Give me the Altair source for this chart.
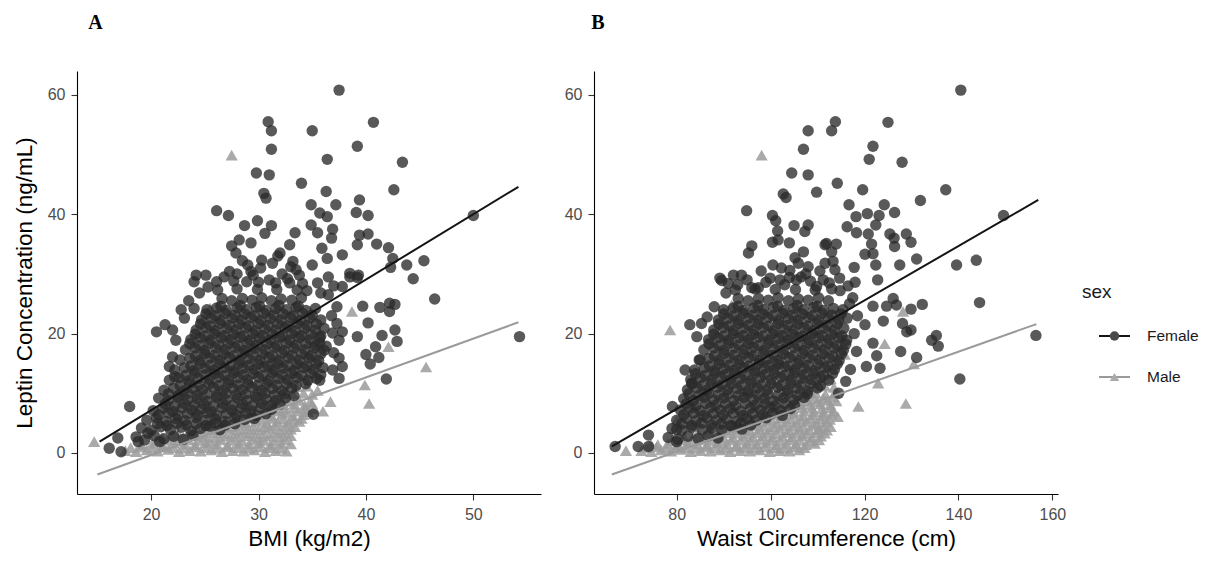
import altair as alt
import pandas as pd

SEX = ["Female", "Male"]

# ---------------- Panel A : BMI (kg/m2) vs leptin (ng/mL) ----------------
female_a = [
    # scattered / upper points
    (37.5, 60.8), (30.9, 55.5), (40.7, 55.4), (31.2, 54.0), (35.0, 54.0), (31.2, 50.9), (39.2, 51.4),
    (36.4, 49.2), (43.4, 48.7), (29.8, 46.9), (31.0, 46.6), (34.0, 45.2), (42.6, 44.1), (36.3, 43.8),
    (30.5, 43.5), (30.7, 42.7), (39.4, 42.4), (34.9, 41.6), (37.2, 41.6), (26.1, 40.6), (35.7, 40.2),
    (39.1, 40.3), (27.2, 39.8), (36.4, 39.6), (40.2, 39.8), (50.0, 39.8), (29.9, 38.9), (28.7, 38.1),
    (31.2, 38.1), (34.9, 38.2), (36.9, 37.5), (35.5, 36.9), (33.4, 36.9), (30.6, 36.8), (36.8, 36.0),
    (39.4, 36.5), (40.2, 36.7), (28.2, 35.7), (29.3, 35.2), (39.2, 34.9), (41.0, 35.0), (32.9, 34.9),
    (27.5, 34.7), (42.1, 34.4), (35.9, 34.3), (27.9, 33.5), (32.0, 33.5), (37.8, 33.2), (36.4, 32.6),
    (42.5, 32.6), (30.3, 32.3), (33.2, 32.1), (45.4, 32.2), (31.3, 31.8), (29.0, 31.5), (35.0, 31.5),
    (43.8, 31.5), (42.3, 31.1), (33.5, 30.7), (27.3, 30.4), (38.5, 30.1), (24.2, 29.8), (25.1, 29.8),
    (39.2, 29.4), (44.4, 29.2), (31.0, 29.0), (24.0, 28.7), (26.1, 28.7), (28.9, 28.7), (31.6, 28.5),
    (32.9, 28.5), (34.1, 28.4), (37.8, 27.9), (28.0, 30.0), (29.5, 29.8), (30.2, 31.0), (32.2, 30.0),
    (26.8, 29.5), (33.8, 29.8), (31.8, 33.0), (28.5, 32.2), (38.5, 29.5), (39.3, 29.8), (37.0, 28.0),
    (36.5, 26.5), (37.3, 24.5), (36.8, 23.0), (36.5, 29.5), (35.5, 28.5),
    (24.5, 26.8), (25.3, 27.8), (30.0, 28.6), (32.7, 29.2), (27.7, 28.8), (29.3, 30.4), (33.0, 31.2),
    (34.5, 27.2), (35.8, 26.8), (23.5, 25.5), (22.8, 24.0), (37.0, 16.8), (36.9, 20.1),
    (46.4, 25.8), (39.7, 24.6), (41.3, 24.4), (42.2, 25.1), (42.7, 24.9), (42.2, 23.7), (40.2, 21.8),
    (39.2, 19.5), (41.5, 19.7), (42.7, 20.6), (42.9, 18.7), (40.9, 17.8), (40.0, 16.5), (41.2, 16.0),
    (40.4, 14.9), (41.9, 12.4), (54.3, 19.5), (35.1, 6.5), (37.5, 12.5), (37.5, 15.9), (37.5, 18.9),
    (37.8, 20.3), (37.3, 21.7), (35.7, 18.4), (36.3, 17.9), (35.7, 12.2), (36.9, 13.9), (37.8, 14.5),
    (16.1, 0.8), (17.2, 0.2), (18.0, 7.8), (16.9, 2.5), (18.8, 1.9), (19.7, 3.3), (20.8, 1.9),
    (20.5, 20.3), (21.3, 21.5), (22.3, 18.9), (22.0, 20.6), (21.7, 14.5), (22.2, 12.8), (22.0, 16.1),
    (24.0, 24.2), (23.1, 22.6),
    # dense cloud
    (18.6, 2.7), (19.4, 2.2), (20.3, 2.9), (21.2, 2.4), (22.1, 2.8), (23.0, 2.3), (23.9, 3.0),
    (19.1, 4.2), (20.0, 3.8), (20.9, 4.4), (21.8, 3.9), (22.8, 4.3), (23.7, 3.7), (24.6, 4.1), (25.5, 4.5), (26.4, 3.9),
    (19.6, 5.5), (20.5, 5.9), (21.4, 5.3), (22.3, 5.8), (23.2, 5.4), (24.2, 5.9), (25.1, 5.5), (26.0, 5.7),
    (26.9, 5.3), (27.8, 5.9), (28.7, 5.6), (29.6, 5.8),
    (20.2, 7.1), (21.1, 7.5), (22.0, 7.0), (22.9, 7.6), (23.8, 7.2), (24.7, 7.4), (25.6, 7.0), (26.6, 7.6),
    (27.5, 7.2), (28.4, 7.5), (29.3, 7.1), (30.2, 7.6), (31.2, 7.3),
    (20.7, 9.2), (21.6, 8.8), (22.5, 9.3), (23.4, 8.9), (24.3, 9.1), (25.2, 8.7), (26.1, 9.3), (27.0, 8.9),
    (28.0, 9.2), (28.9, 8.8), (29.8, 9.3), (30.7, 9.0), (31.6, 8.8), (32.5, 9.2),
    (21.2, 10.5), (22.1, 10.9), (23.0, 10.4), (23.9, 10.8), (24.8, 10.6), (25.8, 11.0), (26.7, 10.5), (27.6, 10.9),
    (28.5, 10.6), (29.4, 11.0), (30.3, 10.5), (31.3, 10.8), (32.2, 10.4), (33.1, 10.9),
    (21.7, 12.2), (22.6, 12.6), (23.5, 12.1), (24.4, 12.5), (25.4, 12.3), (26.3, 12.7), (27.2, 12.2), (28.1, 12.6),
    (29.0, 12.3), (30.0, 12.7), (30.9, 12.1), (31.8, 12.5), (32.7, 12.3), (33.6, 12.6), (34.6, 12.2), (35.4, 12.5),
    (22.2, 13.9), (23.1, 14.3), (24.0, 13.8), (25.0, 14.2), (25.9, 13.9), (26.8, 14.3), (27.7, 13.8), (28.6, 14.2),
    (29.6, 14.0), (30.5, 14.4), (31.4, 13.9), (32.3, 14.2), (33.3, 13.8), (34.2, 14.3), (35.1, 14.0), (36.0, 14.3),
    (22.7, 15.6), (23.6, 15.9), (24.5, 15.5), (25.5, 15.9), (26.4, 15.6), (27.3, 16.0), (28.2, 15.5), (29.1, 15.8),
    (30.1, 15.6), (31.0, 16.0), (31.9, 15.5), (32.8, 15.9), (33.8, 15.6), (34.7, 15.9), (35.6, 15.5),
    (23.2, 17.3), (24.1, 17.6), (25.0, 17.2), (26.0, 17.6), (26.9, 17.3), (27.8, 17.7), (28.7, 17.2), (29.6, 17.5),
    (30.6, 17.3), (31.5, 17.7), (32.4, 17.2), (33.3, 17.6), (34.3, 17.3), (35.2, 17.6), (36.1, 17.2),
    (23.7, 19.0), (24.6, 19.3), (25.5, 18.9), (26.5, 19.3), (27.4, 19.0), (28.3, 19.4), (29.2, 18.9), (30.1, 19.2),
    (31.1, 19.0), (32.0, 19.4), (32.9, 18.9), (33.8, 19.3), (34.8, 19.0), (35.7, 19.3),
    (24.2, 20.6), (25.1, 21.0), (26.0, 20.5), (27.0, 20.9), (27.9, 20.6), (28.8, 21.0), (29.7, 20.5), (30.6, 20.8),
    (31.6, 20.6), (32.5, 21.0), (33.4, 20.5), (34.3, 20.9), (35.3, 20.6), (36.1, 20.9),
    (24.7, 22.3), (25.6, 22.6), (26.5, 22.2), (27.5, 22.6), (28.4, 22.3), (29.3, 22.7), (30.2, 22.2), (31.1, 22.5),
    (32.1, 22.3), (33.0, 22.7), (33.9, 22.2), (34.8, 22.6), (35.8, 22.3),
    (25.2, 24.0), (26.1, 24.3), (27.0, 23.9), (28.0, 24.3), (28.9, 24.0), (29.8, 24.4), (30.7, 23.9), (31.6, 24.2),
    (32.6, 24.0), (33.5, 24.4), (34.4, 23.9), (35.3, 24.2),
    (26.6, 25.9), (27.5, 25.5), (28.5, 25.9), (29.4, 25.6), (30.3, 26.0), (31.2, 25.5), (32.1, 25.8),
    (33.1, 25.6), (34.0, 26.0),
    (26.2, 27.3), (28.0, 27.5), (29.9, 27.4), (31.7, 27.4), (33.6, 27.3),
    # dense cloud, in-between positions
    (20.6, 4.9), (21.5, 4.6), (22.4, 5.0), (23.3, 4.7), (24.2, 4.9), (25.1, 4.6), (26.0, 5.0), (26.9, 4.7), (27.8, 4.9),
    (20.7, 6.4), (21.6, 6.7), (22.5, 6.3), (23.4, 6.6), (24.3, 6.4), (25.2, 6.7), (26.1, 6.3), (27.0, 6.6),
    (27.9, 6.4), (28.8, 6.7), (29.8, 6.3), (30.7, 6.6),
    (21.3, 8.2), (22.2, 7.9), (23.1, 8.3), (24.0, 8.0), (24.9, 8.2), (25.8, 7.9), (26.7, 8.3), (27.6, 8.0),
    (28.5, 8.2), (29.4, 7.9), (30.3, 8.3), (31.2, 8.0), (32.0, 8.2),
    (21.6, 9.9), (22.5, 9.6), (23.4, 10.0), (24.3, 9.7), (25.2, 9.9), (26.1, 9.6), (27.0, 10.0), (27.9, 9.7),
    (28.8, 9.9), (29.7, 9.6), (30.6, 10.0), (31.5, 9.7), (32.4, 9.9), (33.3, 9.6),
    (22.7, 11.3), (23.6, 11.7), (24.5, 11.4), (25.4, 11.6), (26.3, 11.3), (27.2, 11.7), (28.1, 11.4),
    (29.0, 11.6), (29.9, 11.3), (30.8, 11.7), (31.7, 11.4), (32.6, 11.6), (33.5, 11.3), (34.4, 11.6),
    (23.2, 13.0), (24.1, 13.4), (25.0, 13.1), (25.9, 13.3), (26.8, 13.0), (27.7, 13.4), (28.6, 13.1),
    (29.5, 13.3), (30.4, 13.0), (31.3, 13.4), (32.2, 13.1), (33.1, 13.3), (34.0, 13.0), (34.9, 13.3), (35.8, 13.1),
    (23.7, 14.6), (24.6, 15.0), (25.5, 14.7), (26.4, 14.9), (27.3, 14.6), (28.2, 15.0), (29.1, 14.7),
    (30.0, 14.9), (30.9, 14.6), (31.8, 15.0), (32.7, 14.7), (33.6, 14.9), (34.5, 14.6), (35.4, 14.9),
    (24.1, 16.3), (25.0, 16.7), (25.9, 16.4), (26.8, 16.6), (27.7, 16.3), (28.6, 16.7), (29.5, 16.4),
    (30.4, 16.6), (31.3, 16.3), (32.2, 16.7), (33.1, 16.4), (34.0, 16.6), (34.9, 16.3), (35.8, 16.6),
    (23.6, 18.3), (24.5, 18.0), (25.4, 18.4), (26.3, 18.1), (27.2, 18.3), (28.1, 18.0), (29.0, 18.4), (29.9, 18.1),
    (30.8, 18.3), (31.7, 18.0), (32.6, 18.4), (33.5, 18.1), (34.4, 18.3), (35.3, 18.0),
    (24.1, 19.9), (25.0, 19.6), (25.9, 20.0), (26.8, 19.7), (27.7, 19.9), (28.6, 19.6), (29.5, 20.0), (30.4, 19.7),
    (31.3, 19.9), (32.2, 19.6), (33.1, 20.0), (34.0, 19.7), (34.9, 19.9), (35.8, 19.6),
    (24.6, 21.6), (25.5, 21.3), (26.4, 21.7), (27.3, 21.4), (28.2, 21.6), (29.1, 21.3), (30.0, 21.7), (30.9, 21.4),
    (31.8, 21.6), (32.7, 21.3), (33.6, 21.7), (34.5, 21.4), (35.4, 21.6),
    (25.1, 23.3), (26.0, 23.0), (26.9, 23.4), (27.8, 23.1), (28.7, 23.3), (29.6, 23.0), (30.5, 23.4), (31.4, 23.1),
    (32.3, 23.3), (33.2, 23.0), (34.1, 23.4), (35.0, 23.1),
    (26.5, 24.6), (28.3, 24.7), (30.1, 24.6), (31.9, 24.7), (33.7, 24.6),
]

male_a = [
    (17.6, 0.4), (18.6, 0.2), (19.6, 0.5), (20.6, 0.3), (21.6, 0.6), (22.6, 0.2), (23.6, 0.4), (24.6, 0.3),
    (25.6, 0.5), (26.6, 0.2), (27.6, 0.4), (28.6, 0.3), (29.6, 0.5), (30.6, 0.2), (31.6, 0.4), (32.6, 0.3),
    (19.1, 1.4), (20.1, 1.6), (21.1, 1.3), (22.1, 1.7), (23.1, 1.5), (24.1, 1.4), (25.1, 1.7), (26.1, 1.5),
    (27.1, 1.3), (28.1, 1.6), (29.1, 1.5), (30.1, 1.7), (31.1, 1.4), (32.1, 1.6), (33.0, 1.5),
    (21.0, 2.6), (22.0, 2.8), (23.0, 2.6), (24.0, 2.9), (25.0, 2.7), (26.0, 2.6), (27.0, 2.8), (28.0, 2.7),
    (29.0, 2.9), (30.0, 2.6), (31.0, 2.8), (32.0, 2.7), (33.0, 2.9),
    (24.0, 3.8), (25.0, 4.0), (26.0, 3.9), (27.0, 4.1), (28.0, 3.8), (29.0, 4.0), (30.0, 3.9), (31.0, 4.1),
    (32.0, 3.8), (33.0, 4.0),
    (26.8, 5.0), (27.8, 5.2), (28.8, 5.1), (29.8, 5.3), (30.8, 5.0), (31.8, 5.2), (32.8, 5.1), (33.8, 5.3),
    (29.2, 6.2), (30.2, 6.4), (31.2, 6.3), (32.2, 6.5), (33.2, 6.2), (34.2, 6.4),
    (31.3, 7.5), (32.3, 7.4), (33.3, 7.6), (34.3, 7.5), (35.2, 7.4),
    (32.8, 8.7), (33.8, 8.8), (34.8, 8.6), (33.2, 9.9), (34.2, 10.0), (35.0, 9.8), (33.6, 11.1), (34.5, 11.2),
    # in-between positions of the dense cloud
    (18.1, 0.9), (19.1, 1.0), (20.1, 0.8), (21.1, 1.0), (22.1, 0.9), (23.1, 0.8), (24.1, 1.0), (25.1, 0.9),
    (26.1, 0.8), (27.1, 1.0), (28.1, 0.9), (29.1, 0.8), (30.1, 1.0), (31.1, 0.9), (32.1, 0.8),
    (20.5, 2.1), (21.5, 2.2), (22.5, 2.0), (23.5, 2.2), (24.5, 2.1), (25.5, 2.0), (26.5, 2.2), (27.5, 2.1),
    (28.5, 2.0), (29.5, 2.2), (30.5, 2.1), (31.5, 2.0), (32.5, 2.2),
    (22.5, 3.3), (23.5, 3.4), (24.5, 3.2), (25.5, 3.4), (26.5, 3.3), (27.5, 3.2), (28.5, 3.4), (29.5, 3.3),
    (30.5, 3.2), (31.5, 3.4), (32.5, 3.3),
    (25.5, 4.5), (26.5, 4.6), (27.5, 4.4), (28.5, 4.6), (29.5, 4.5), (30.5, 4.4), (31.5, 4.6), (32.5, 4.5), (33.4, 4.4),
    (28.3, 5.7), (29.3, 5.8), (30.3, 5.6), (31.3, 5.8), (32.3, 5.7), (33.3, 5.6), (34.0, 5.8),
    (30.7, 6.9), (31.7, 7.0), (32.7, 6.8), (33.7, 7.0), (34.6, 6.9),
    (32.3, 8.1), (33.3, 8.2), (34.3, 8.0), (35.0, 8.2),
    # scattered
    (27.5, 49.9), (38.7, 23.7), (42.1, 17.8), (45.6, 14.4), (39.9, 11.4), (36.7, 8.6), (40.3, 8.3), (14.7, 1.9),
    (31.2, 15.3), (31.2, 13.7), (25.0, 16.7), (34.7, 16.5), (33.5, 15.0), (25.5, 24.3), (35.5, 10.5), (36.0, 7.0),
]

# fitted lines, panel A (end points)
fit_a_x = {"Female": [15.2, 54.2], "Male": [15.0, 54.2]}
fit_a_y = {"Female": [1.9, 44.6], "Male": [-3.6, 21.9]}

# ---------------- Panel B : Waist circumference (cm) vs leptin ----------------
female_b = [
    (108.0, 54.0), (107.0, 50.9), (104.5, 46.9), (108.0, 46.6), (102.7, 43.4), (103.3, 42.8), (109.8, 43.7),
    (94.9, 40.6), (100.4, 39.8), (101.1, 38.9), (101.5, 37.2), (100.4, 35.3), (101.6, 35.7), (105.0, 38.1),
    (108.0, 38.2), (107.3, 37.1), (104.0, 35.2), (111.6, 34.9), (96.0, 34.7), (95.3, 33.5), (107.0, 33.7),
    (105.2, 32.7), (105.9, 31.8), (102.3, 31.0), (104.1, 30.6), (108.0, 31.2), (99.9, 29.3), (102.0, 29.0),
    (89.6, 28.9), (92.1, 29.8), (93.8, 29.8), (96.0, 27.7), (97.4, 27.7), (105.5, 29.0), (109.8, 27.9),
    (111.6, 31.8), (98.0, 30.5), (100.5, 31.5), (103.0, 28.2), (106.5, 29.5), (110.5, 30.5), (108.5, 28.8), (95.0, 29.0),
    (90.5, 26.8), (93.0, 28.2), (99.0, 28.6), (104.0, 29.4), (107.5, 30.0), (112.5, 28.5), (114.8, 27.2),
    (88.0, 24.5), (86.5, 22.8), (116.8, 25.0),
    (140.5, 60.8), (113.8, 55.5), (113.0, 54.0), (125.0, 55.4), (121.8, 51.4), (121.0, 49.2), (128.0, 48.7),
    (114.2, 45.2), (119.6, 44.1), (137.3, 44.1), (131.9, 42.3), (116.7, 41.6), (120.6, 40.1), (118.2, 39.6),
    (123.1, 39.8), (124.2, 41.6), (126.4, 40.3), (149.6, 39.8), (116.3, 37.9), (118.3, 36.9), (120.8, 36.7),
    (122.4, 38.2), (125.4, 36.7), (126.3, 36.0), (128.9, 36.7), (129.9, 35.3), (126.4, 34.6), (121.5, 35.0),
    (121.8, 33.4), (120.1, 33.3), (111.9, 35.1), (114.0, 35.0), (113.0, 33.7), (113.3, 32.1), (113.7, 30.7),
    (114.7, 29.3), (117.8, 31.1), (122.4, 31.5), (122.8, 29.0), (127.5, 31.5), (131.1, 32.5), (139.6, 31.5),
    (143.8, 32.3), (118.0, 28.6), (111.2, 29.0),
    (144.5, 25.2), (132.3, 24.9), (129.9, 24.1), (124.0, 22.1), (120.1, 21.5), (128.1, 21.7), (129.0, 20.3),
    (129.9, 20.6), (121.8, 24.6), (124.7, 24.6), (126.1, 25.9), (126.8, 24.8), (134.3, 18.9), (135.3, 19.7),
    (135.7, 17.9), (127.7, 17.0), (121.8, 18.4), (122.6, 16.3), (120.4, 14.5), (123.3, 14.2), (131.1, 16.0),
    (140.3, 12.4), (156.5, 19.7),
    (117.5, 26.0), (118.5, 23.0), (117.8, 20.0), (118.3, 17.0), (117.0, 14.0), (116.5, 28.0), (116.0, 12.0),
    (114.5, 10.0), (113.0, 27.5),
    (66.9, 1.1), (71.8, 1.1), (74.0, 1.1), (74.0, 3.0), (79.1, 7.8), (80.0, 1.9), (80.0, 3.9),
    (82.8, 21.5), (85.3, 21.7), (84.3, 19.5), (89.2, 29.3), (91.0, 28.4), (81.8, 13.9), (83.2, 11.7), (85.0, 15.6),
    # dense cloud
    (78.2, 2.6), (80.3, 2.3), (82.4, 2.8), (84.6, 2.4), (86.7, 2.9), (88.8, 2.5),
    (79.0, 4.1), (81.1, 3.8), (83.2, 4.3), (85.4, 3.9), (87.5, 4.2), (89.6, 3.8), (91.8, 4.4), (93.9, 4.0),
    (80.0, 5.5), (82.1, 5.8), (84.2, 5.4), (86.4, 5.9), (88.5, 5.5), (90.6, 5.7), (92.8, 5.3), (94.9, 5.8),
    (97.0, 5.5), (99.1, 5.9),
    (80.8, 7.2), (82.9, 7.5), (85.0, 7.1), (87.2, 7.6), (89.3, 7.2), (91.4, 7.4), (93.6, 7.0), (95.7, 7.5),
    (97.8, 7.2), (99.9, 7.6), (102.1, 7.1), (104.2, 7.4),
    (81.5, 9.1), (83.6, 8.8), (85.8, 9.3), (87.9, 8.9), (90.0, 9.2), (92.2, 8.8), (94.3, 9.3), (96.4, 8.9),
    (98.6, 9.1), (100.7, 8.7), (102.8, 9.2), (105.0, 8.9), (107.1, 9.3),
    (82.3, 10.6), (84.4, 10.9), (86.5, 10.5), (88.7, 11.0), (90.8, 10.6), (92.9, 10.8), (95.1, 10.4), (97.2, 10.9),
    (99.3, 10.6), (101.5, 11.0), (103.6, 10.5), (105.7, 10.8), (107.9, 10.4), (110.0, 10.9),
    (83.0, 12.3), (85.1, 12.6), (87.3, 12.2), (89.4, 12.7), (91.5, 12.3), (93.7, 12.5), (95.8, 12.1), (97.9, 12.6),
    (100.1, 12.3), (102.2, 12.7), (104.3, 12.2), (106.5, 12.5), (108.6, 12.3), (110.7, 12.6), (112.4, 12.2),
    (83.8, 13.9), (85.9, 14.3), (88.0, 13.8), (90.2, 14.2), (92.3, 13.9), (94.4, 14.3), (96.6, 13.8), (98.7, 14.2),
    (100.8, 14.0), (103.0, 14.4), (105.1, 13.9), (107.2, 14.2), (109.4, 13.8), (111.5, 14.3), (113.6, 14.0),
    (84.8, 15.6), (86.9, 15.9), (89.0, 15.5), (91.2, 15.9), (93.3, 15.6), (95.4, 16.0), (97.6, 15.5), (99.7, 15.8),
    (101.8, 15.6), (104.0, 16.0), (106.1, 15.5), (108.2, 15.9), (110.4, 15.6), (112.5, 15.9), (114.6, 15.5),
    (85.8, 17.3), (87.9, 17.6), (90.0, 17.2), (92.2, 17.6), (94.3, 17.3), (96.4, 17.7), (98.6, 17.2), (100.7, 17.5),
    (102.8, 17.3), (105.0, 17.7), (107.1, 17.2), (109.2, 17.6), (111.4, 17.3), (113.5, 17.6), (115.5, 17.2),
    (86.8, 19.0), (88.9, 19.3), (91.0, 18.9), (93.2, 19.3), (95.3, 19.0), (97.4, 19.4), (99.6, 18.9), (101.7, 19.2),
    (103.8, 19.0), (106.0, 19.4), (108.1, 18.9), (110.2, 19.3), (112.4, 19.0), (114.5, 19.3), (116.2, 18.9),
    (87.9, 20.6), (90.0, 21.0), (92.1, 20.5), (94.3, 20.9), (96.4, 20.6), (98.5, 21.0), (100.7, 20.5), (102.8, 20.8),
    (104.9, 20.6), (107.1, 21.0), (109.2, 20.5), (111.3, 20.9), (113.5, 20.6), (115.6, 20.9),
    (88.9, 22.3), (91.0, 22.6), (93.1, 22.2), (95.3, 22.6), (97.4, 22.3), (99.5, 22.7), (101.7, 22.2), (103.8, 22.5),
    (105.9, 22.3), (108.1, 22.7), (110.2, 22.2), (112.3, 22.6), (114.5, 22.3), (116.3, 22.6),
    (90.0, 24.0), (92.1, 24.3), (94.2, 23.9), (96.4, 24.3), (98.5, 24.0), (100.6, 24.4), (102.8, 23.9), (104.9, 24.2),
    (107.0, 24.0), (109.2, 24.4), (111.3, 23.9), (113.4, 24.2), (115.4, 24.0),
    (93.1, 25.9), (95.2, 25.5), (97.4, 25.9), (99.5, 25.6), (101.6, 26.0), (103.8, 25.5), (105.9, 25.8),
    (108.0, 25.6), (110.2, 26.0), (112.3, 25.5),
    (92.5, 27.3), (96.7, 27.5), (101.0, 27.4), (105.3, 27.4), (109.5, 27.3),
    # dense cloud, in-between positions
    (81.1, 4.9), (83.2, 4.6), (85.3, 5.0), (87.4, 4.7), (89.5, 4.9), (91.6, 4.6), (93.7, 5.0), (95.8, 4.7),
    (81.5, 6.4), (83.6, 6.7), (85.7, 6.3), (87.8, 6.6), (89.9, 6.4), (92.0, 6.7), (94.1, 6.3), (96.2, 6.6),
    (98.3, 6.4), (100.4, 6.7), (102.5, 6.3),
    (82.0, 8.2), (84.1, 7.9), (86.2, 8.3), (88.3, 8.0), (90.4, 8.2), (92.5, 7.9), (94.6, 8.3), (96.7, 8.0),
    (98.8, 8.2), (100.9, 7.9), (103.0, 8.3), (105.1, 8.0),
    (82.6, 9.9), (84.7, 9.6), (86.8, 10.0), (88.9, 9.7), (91.0, 9.9), (93.1, 9.6), (95.2, 10.0), (97.3, 9.7),
    (99.4, 9.9), (101.5, 9.6), (103.6, 10.0), (105.7, 9.7), (107.8, 9.9),
    (83.3, 11.6), (85.4, 11.3), (87.5, 11.7), (89.6, 11.4), (91.7, 11.6), (93.8, 11.3), (95.9, 11.7), (98.0, 11.4),
    (100.1, 11.6), (102.2, 11.3), (104.3, 11.7), (106.4, 11.4), (108.5, 11.6), (110.6, 11.3),
    (84.0, 13.3), (86.1, 13.0), (88.2, 13.4), (90.3, 13.1), (92.4, 13.3), (94.5, 13.0), (96.6, 13.4), (98.7, 13.1),
    (100.8, 13.3), (102.9, 13.0), (105.0, 13.4), (107.1, 13.1), (109.2, 13.3), (111.3, 13.0), (113.2, 13.3),
    (87.0, 14.6), (89.1, 15.0), (91.2, 14.7), (93.3, 14.9), (95.4, 14.6), (97.5, 15.0), (99.6, 14.7),
    (101.7, 14.9), (103.8, 14.6), (105.9, 15.0), (108.0, 14.7), (110.1, 14.9), (112.2, 14.6), (114.2, 14.9),
    (88.0, 16.3), (90.1, 16.7), (92.2, 16.4), (94.3, 16.6), (96.4, 16.3), (98.5, 16.7), (100.6, 16.4),
    (102.7, 16.6), (104.8, 16.3), (106.9, 16.7), (109.0, 16.4), (111.1, 16.6), (113.2, 16.3), (115.1, 16.6),
    (86.9, 18.3), (89.0, 18.0), (91.1, 18.4), (93.2, 18.1), (95.3, 18.3), (97.4, 18.0), (99.5, 18.4), (101.6, 18.1),
    (103.7, 18.3), (105.8, 18.0), (107.9, 18.4), (110.0, 18.1), (112.1, 18.3), (114.2, 18.0), (116.0, 18.2),
    (87.9, 19.9), (90.0, 19.6), (92.1, 20.0), (94.2, 19.7), (96.3, 19.9), (98.4, 19.6), (100.5, 20.0), (102.6, 19.7),
    (104.7, 19.9), (106.8, 19.6), (108.9, 20.0), (111.0, 19.7), (113.1, 19.9), (115.2, 19.6),
    (89.0, 21.6), (91.1, 21.3), (93.2, 21.7), (95.3, 21.4), (97.4, 21.6), (99.5, 21.3), (101.6, 21.7), (103.7, 21.4),
    (105.8, 21.6), (107.9, 21.3), (110.0, 21.7), (112.1, 21.4), (114.2, 21.6),
    (90.0, 23.3), (92.1, 23.0), (94.2, 23.4), (96.3, 23.1), (98.4, 23.3), (100.5, 23.0), (102.6, 23.4), (104.7, 23.1),
    (106.8, 23.3), (108.9, 23.0), (111.0, 23.4), (113.1, 23.1), (115.0, 23.3),
    (93.1, 24.6), (97.3, 24.7), (101.5, 24.6), (105.7, 24.7), (109.9, 24.6),
]

male_b = [
    (72.5, 0.4), (74.6, 0.2), (76.7, 0.5), (78.8, 0.3), (80.9, 0.6), (83.0, 0.2), (85.1, 0.4), (87.2, 0.3),
    (89.3, 0.5), (91.4, 0.2), (93.5, 0.4), (95.6, 0.3), (97.7, 0.5), (99.8, 0.2), (101.9, 0.4), (104.0, 0.3), (106.1, 0.5),
    (76.0, 1.4), (78.1, 1.6), (80.2, 1.3), (82.3, 1.7), (84.4, 1.5), (86.5, 1.4), (88.6, 1.7), (90.7, 1.5),
    (92.8, 1.3), (94.9, 1.6), (97.0, 1.5), (99.1, 1.7), (101.2, 1.4), (103.3, 1.6), (105.4, 1.5), (107.5, 1.4), (109.4, 1.6),
    (81.5, 2.6), (83.6, 2.8), (85.7, 2.6), (87.8, 2.9), (89.9, 2.7), (92.0, 2.6), (94.1, 2.8), (96.2, 2.7),
    (98.3, 2.9), (100.4, 2.6), (102.5, 2.8), (104.6, 2.7), (106.7, 2.9), (108.8, 2.6), (110.7, 2.8),
    (87.2, 3.8), (89.3, 4.0), (91.4, 3.9), (93.5, 4.1), (95.6, 3.8), (97.7, 4.0), (99.8, 3.9), (101.9, 4.1),
    (104.0, 3.8), (106.1, 4.0), (108.2, 3.9), (110.3, 4.1), (112.0, 3.8),
    (93.0, 5.0), (95.1, 5.2), (97.2, 5.1), (99.3, 5.3), (101.4, 5.0), (103.5, 5.2), (105.6, 5.1), (107.7, 5.3),
    (109.8, 5.0), (111.9, 5.2),
    (98.5, 6.2), (100.6, 6.4), (102.7, 6.3), (104.8, 6.5), (106.9, 6.2), (109.0, 6.4), (111.1, 6.3), (113.0, 6.5),
    (102.5, 7.5), (104.6, 7.4), (106.7, 7.6), (108.8, 7.5), (110.9, 7.4), (112.8, 7.6),
    (105.8, 8.7), (107.9, 8.8), (110.0, 8.6), (112.1, 8.8), (114.0, 8.7),
    (107.5, 9.9), (109.6, 10.0), (111.7, 9.8), (113.6, 10.0), (109.5, 11.1), (111.6, 11.2), (113.5, 11.0),
    (110.5, 12.3), (112.8, 12.4),
    # in-between positions of the dense cloud
    (73.6, 0.9), (75.7, 1.0), (77.8, 0.8), (79.9, 1.0), (82.0, 0.9), (84.1, 0.8), (86.2, 1.0), (88.3, 0.9),
    (90.4, 0.8), (92.5, 1.0), (94.6, 0.9), (96.7, 0.8), (98.8, 1.0), (100.9, 0.9), (103.0, 0.8), (105.1, 1.0), (107.2, 0.9),
    (79.0, 2.1), (81.1, 2.2), (83.2, 2.0), (85.3, 2.2), (87.4, 2.1), (89.5, 2.0), (91.6, 2.2), (93.7, 2.1),
    (95.8, 2.0), (97.9, 2.2), (100.0, 2.1), (102.1, 2.0), (104.2, 2.2), (106.3, 2.1), (108.4, 2.0), (110.3, 2.2),
    (84.5, 3.3), (86.6, 3.4), (88.7, 3.2), (90.8, 3.4), (92.9, 3.3), (95.0, 3.2), (97.1, 3.4), (99.2, 3.3),
    (101.3, 3.2), (103.4, 3.4), (105.5, 3.3), (107.6, 3.2), (109.7, 3.4), (111.5, 3.3),
    (90.2, 4.5), (92.3, 4.6), (94.4, 4.4), (96.5, 4.6), (98.6, 4.5), (100.7, 4.4), (102.8, 4.6), (104.9, 4.5),
    (107.0, 4.4), (109.1, 4.6), (111.2, 4.5), (112.8, 4.4),
    (96.0, 5.7), (98.1, 5.8), (100.2, 5.6), (102.3, 5.8), (104.4, 5.7), (106.5, 5.6), (108.6, 5.8), (110.7, 5.7), (112.6, 5.6),
    (100.8, 6.9), (102.9, 7.0), (105.0, 6.8), (107.1, 7.0), (109.2, 6.9), (111.3, 6.8), (113.4, 7.0),
    (104.3, 8.1), (106.4, 8.2), (108.5, 8.0), (110.6, 8.2), (112.7, 8.1),
    (107.0, 9.3), (109.1, 9.4), (111.2, 9.2), (113.3, 9.4),
    # scattered
    (98.1, 49.9), (78.6, 20.6), (91.7, 24.8), (69.2, 0.4), (124.3, 18.3), (130.5, 14.9), (122.9, 11.7),
    (118.7, 7.8), (128.8, 8.3), (114.3, 6.1), (110.2, 3.9), (128.2, 23.7), (96.5, 10.5), (96.0, 17.0),
    (104.5, 13.5), (101.5, 15.0), (115.8, 16.5), (80.0, 5.5), (74.5, 1.5),
]

fit_b_x = {"Female": [66.2, 157.0], "Male": [66.2, 156.6]}
fit_b_y = {"Female": [1.1, 42.4], "Male": [-3.6, 21.6]}

X_TICKS_A = [20, 30, 40, 50]
X_TICKS_B = [80, 100, 120, 140, 160]
Y_TICKS = [0, 20, 40, 60]

POINT_COLORS = ["#2a2a2a", "#9b9b9b"]
LINE_COLORS = ["#141414", "#9a9a9a"]

FONT = "Liberation Sans"
W, H = 464, 423
Y_DOM = [-6.87, 64.0]


def pts_df(rows, sex):
    return pd.DataFrame({"x": [r[0] for r in rows], "y": [r[1] for r in rows], "sex": sex})


def line_df(xs, ys):
    out = []
    for s in SEX:
        for xv, yv in zip(xs[s], ys[s]):
            out.append({"x": xv, "y": yv, "sex": s})
    return pd.DataFrame(out)


def panel(fem, mal, xs, ys, xdom, xticks, xtitle, ytitle, label, dx):
    xenc = alt.X("x:Q", scale=alt.Scale(domain=xdom, nice=False, zero=False),
                 axis=alt.Axis(values=xticks, title=xtitle))
    if ytitle:
        yaxis = alt.Axis(values=Y_TICKS, title=ytitle)
    else:
        yaxis = alt.Axis(values=Y_TICKS, title=None)
    yenc = alt.Y("y:Q", scale=alt.Scale(domain=Y_DOM, nice=False, zero=False), axis=yaxis)
    col = alt.Color("sex:N", scale=alt.Scale(domain=SEX, range=POINT_COLORS), legend=None)
    lcol = alt.Color("sex:N", scale=alt.Scale(domain=SEX, range=LINE_COLORS), legend=None)

    male_pts = alt.Chart(pts_df(mal, "Male")).mark_point(
        shape="triangle-up", filled=True, size=150, opacity=0.85).encode(x=xenc, y=yenc, color=col)
    fem_pts = alt.Chart(pts_df(fem, "Female")).mark_point(
        shape="circle", filled=True, size=130, opacity=0.78).encode(x=xenc, y=yenc, color=col)
    lines = alt.Chart(line_df(xs, ys)).mark_line(strokeWidth=2).encode(
        x=xenc, y=yenc, color=lcol, detail="sex:N")
    return alt.layer(male_pts, fem_pts, lines).resolve_scale(color="independent").properties(
        width=W, height=H,
        title=alt.TitleParams(label, anchor="start", font="Liberation Serif", fontSize=20,
                              fontWeight="bold", color="black", offset=38, dx=dx),
    )


pa = panel(female_a, male_a, fit_a_x, fit_a_y, [13.1, 56.3], X_TICKS_A, "BMI (kg/m2)",
           "Leptin Concentration (ng/mL)", "A", 75)
pb = panel(female_b, male_b, fit_b_x, fit_b_y, [62.4, 161.2], X_TICKS_B, "Waist Circumference (cm)",
           "", "B", 27)

# ---------------- legend panel ----------------
leg_df = pd.DataFrame({"sex": SEX})
ly = alt.Y("sex:N", scale=alt.Scale(type="point", domain=SEX, range=[265, 306], padding=0), axis=None)
leg_rule = alt.Chart(leg_df).mark_rule(strokeWidth=2).encode(
    x=alt.value(17), x2=alt.value(48), y=ly,
    color=alt.Color("sex:N", scale=alt.Scale(domain=SEX, range=LINE_COLORS), legend=None))
leg_pt = alt.Chart(leg_df).mark_point(filled=True, size=90, opacity=1).encode(
    x=alt.value(32.5), y=ly,
    shape=alt.Shape("sex:N", scale=alt.Scale(domain=SEX, range=["circle", "triangle-up"]), legend=None),
    color=alt.Color("sex:N", scale=alt.Scale(domain=SEX, range=["#4a4a4a", "#aaaaaa"]), legend=None))
leg_txt = alt.Chart(leg_df).mark_text(align="left", baseline="middle", font=FONT, fontSize=15.5,
                                      color="#1a1a1a").encode(
    x=alt.value(65), y=ly, text="sex:N")
leg_title = alt.Chart(pd.DataFrame({"t": ["sex"]})).mark_text(
    align="left", baseline="middle", font=FONT, fontSize=19, color="#1a1a1a").encode(
    x=alt.value(0), y=alt.value(221), text="t:N")
legend = alt.layer(leg_title, leg_rule, leg_pt, leg_txt).resolve_scale(
    color="independent").properties(width=120, height=481)

chart = alt.hconcat(alt.hconcat(pa, pb, spacing=23), legend, spacing=16).configure_view(
    stroke=None
).configure_axis(
    grid=False,
    domainColor="#000000",
    domainWidth=1.1,
    tickColor="#333333",
    tickWidth=1.1,
    tickSize=6,
    labelFont=FONT,
    labelFontSize=16,
    labelColor="#4d4d4d",
    labelPadding=6,
    titleFont=FONT,
    titleFontSize=22.5,
    titleFontWeight="normal",
    titleColor="#000000",
    titlePadding=5,
).configure_axisY(titlePadding=11)

chart.save("out.html", embed_options={"renderer": "svg", "actions": False})
